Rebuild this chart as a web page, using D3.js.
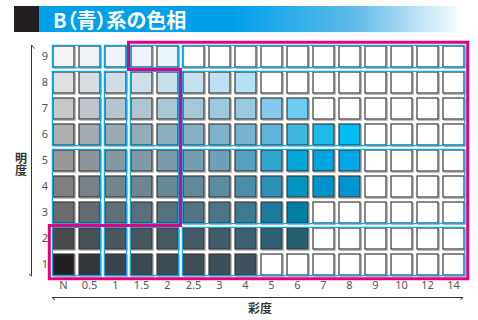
<!DOCTYPE html>
<html><head><meta charset="utf-8">
<script src="https://cdn.jsdelivr.net/npm/d3@7"></script>
<style>body{margin:0;background:#fff}</style>
</head><body><svg id="c" width="478" height="320"></svg>
<script>
const chromas = ["N","0.5","1","1.5","2","2.5","3","4","5","6","7","8","9","10","12","14"];
const values = ["9","8","7","6","5","4","3","2","1"];
const titleText = "B（青）系の色相";
const xTitle = "彩度";
const yTitle = "明度";
// chip colours per value row, from chroma N upward (missing chips are blank)
const v9 = ["#f4f4f5","#eff3f7","#eef4f9","#ecf5fb","#eaf4fb"];
const v8 = ["#dfe0e1","#d8dde2","#d1dde5","#cde0ea","#c8dfec","#c5e1ef","#bde1f2","#b3e2f7"];
const v7 = ["#c7c8ca","#bfc5ca","#b5c5cd","#afc6d1","#a8c7d5","#a4c8d8","#9cc9dd","#97cae0","#84cbeb","#6bcdf3"];
const v6 = ["#acaeb0","#a3aab1","#9aabb4","#93adb9","#8cafbf","#88b1c3","#80b3c9","#77b5cf","#5fb4d8","#3eb6e0","#1eb8e9","#00bef3"];
const v5 = ["#98989a","#8e949a","#8599a2","#8099a6","#7a9caa","#749fb1","#6ca1b7","#54a0c0","#2fa5cf","#00a6d6","#00a4de","#00a8e7"];
const v4 = ["#7f7f81","#798087","#72848c","#6d8691","#678895","#62899a","#5a8ca2","#4b8ea9","#2a92b6","#0095c1","#0093c9","#0094d0"];
const v3 = ["#6b6b6d","#656a70","#5f6f75","#5b6f78","#56717c","#527381","#4b7587","#3d7990","#1d7b9a","#007ea4"];
const v2 = ["#4b4b4d","#4a5057","#4a575e","#475960","#455a63","#445c67","#415d6a","#3b6072","#2f6073","#26606f"];
const v1 = ["#231f20","#32363a","#3a444a","#3c484f","#3c4a51","#3d4c54","#3d4f58","#3d525c"];
const rowColors = {"9":v9,"8":v8,"7":v7,"6":v6,"5":v5,"4":v4,"3":v3,"2":v2,"1":v1};
const colGroups = [["N","0.5"],["1"],["1.5","2"],["2.5","3","4","5","6","7","8","9","10","12","14"]];
const rowGroups = [["9"],["8","7","6"],["5","4","3"],["2","1"]];

const svg = d3.select("#c");
const defs = svg.append("defs");
const grad = defs.append("linearGradient").attr("id","bg").attr("x1","0").attr("x2","1").attr("y1","0").attr("y2","0");
grad.append("stop").attr("offset","0").attr("stop-color","#00a0e9");
grad.append("stop").attr("offset","0.46").attr("stop-color","#00a0e9");
grad.append("stop").attr("offset","0.75").attr("stop-color","#62bbe9");
grad.append("stop").attr("offset","1").attr("stop-color","#ffffff");

// banner
svg.append("rect").attr("x",14).attr("y",6).attr("width",25).attr("height",26).attr("fill","#231f20");
svg.append("rect").attr("x",39).attr("y",6).attr("width",424).attr("height",26).attr("fill","url(#bg)");
svg.append("text").attr("x",53).attr("y",28).text(titleText)
  .attr("fill","#fff").attr("font-family","'Noto Sans CJK JP'").attr("font-weight","bold")
  .attr("font-size",20).style("font-feature-settings","'palt'");

const x = d3.scaleBand().domain(chromas).range([50.5,466.5]).paddingInner(5/26).paddingOuter(2.5/26);
const y = d3.scaleBand().domain(values).range([43.5,277.5]).paddingInner(5/26).paddingOuter(2.5/26);
const bw = x.bandwidth(), bh = y.bandwidth();
const h = (x.step()-bw)/2;

const cells = [];
values.forEach(v => chromas.forEach((c,i) => cells.push({v, c, fill: rowColors[v][i] || "#ffffff"})));

const g = svg.append("g");
g.selectAll("rect.sh").data(cells).join("rect").attr("class","sh")
  .attr("x",d=>x(d.c)+1.2).attr("y",d=>y(d.v)+1.2).attr("width",bw).attr("height",bh)
  .attr("fill","none").attr("stroke","#a0a0a0").attr("stroke-width",1);
g.selectAll("rect.cell").data(cells).join("rect").attr("class","cell")
  .attr("x",d=>x(d.c)).attr("y",d=>y(d.v)).attr("width",bw).attr("height",bh)
  .attr("fill",d=>d.fill).attr("stroke","#3a3a3a").attr("stroke-width",1.2);

// cyan group outlines
const groups = [];
rowGroups.forEach(rg => colGroups.forEach(cg => groups.push({rg, cg})));
svg.append("g").selectAll("rect").data(groups).join("rect")
  .attr("x",d=>x(d.cg[0])-0.6).attr("y",d=>y(d.rg[0])-0.6)
  .attr("width",d=>x(d.cg[d.cg.length-1])+bw-x(d.cg[0])+1.2)
  .attr("height",d=>y(d.rg[d.rg.length-1])+bh-y(d.rg[0])+1.2)
  .attr("fill","none").attr("stroke","#14a8e2").attr("stroke-width",1.3);

// magenta outline
const o = 3.7;
const pts = [
  [x("1.5")-h, y("9")-o],
  [x("14")+bw+o, y("9")-o],
  [x("14")+bw+o, y("1")+bh+o],
  [x("N")-o, y("1")+bh+o],
  [x("N")-o, y("2")-h],
  [x("2")+bw+h, y("2")-h],
  [x("2")+bw+h, y("8")-h],
  [x("1.5")-h, y("8")-h]
];
svg.append("path").attr("d", d3.line()(pts)+"Z").attr("fill","none")
  .attr("stroke","#e4007f").attr("stroke-width",3).attr("stroke-linejoin","miter");

// axes labels
const xa = svg.append("g").attr("transform","translate(0,277.5)")
  .call(d3.axisBottom(x).tickSize(0).tickPadding(4));
xa.select(".domain").remove();
xa.selectAll("text").attr("fill","#555").attr("font-family","'Noto Sans'").attr("font-size",11);
const ya = svg.append("g").attr("transform","translate(50.5,0)")
  .call(d3.axisLeft(y).tickSize(0).tickPadding(2.5));
ya.select(".domain").remove();
ya.selectAll("text").attr("fill","#555").attr("font-family","'Noto Sans'").attr("font-size",11);

// arrows
const ln = svg.append("g").attr("stroke","#333").attr("stroke-width",1).attr("fill","none");
ln.append("path").attr("d","M31.5,45 L31.5,276 M31.5,45 L34.5,48.5 M31.5,276 L29,274");
ln.append("path").attr("d","M52,297.5 L463,297.5 M52,297.5 L55,300 M463,297.5 L460.5,299.5");

// titles
const tf = "'Noto Sans CJK JP'";
svg.append("text").attr("x",21).attr("y",164.5).attr("text-anchor","middle")
  .style("writing-mode","vertical-rl").text(yTitle)
  .attr("font-family",tf).attr("font-size",12).attr("font-weight","bold").attr("fill","#333");
svg.append("text").attr("x",260).attr("y",312.5).attr("text-anchor","middle").text(xTitle)
  .attr("font-family",tf).attr("font-size",12).attr("font-weight","bold").attr("fill","#333");
</script></body></html>
